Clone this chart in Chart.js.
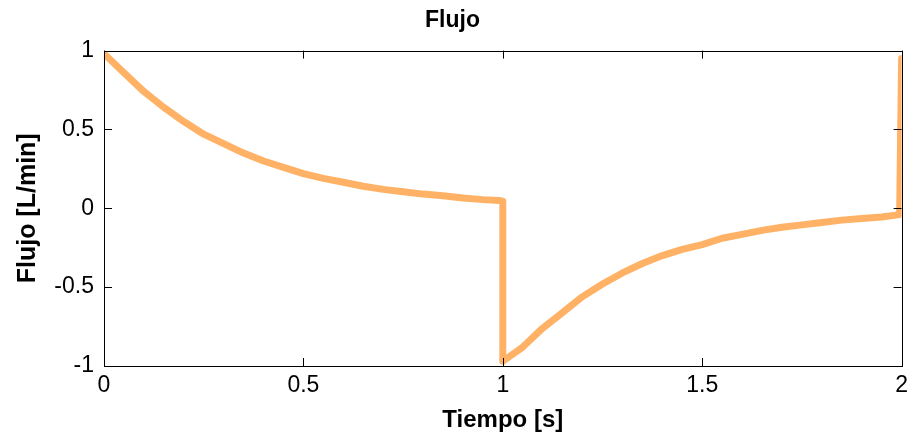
<!DOCTYPE html>
<html>
<head>
<meta charset="utf-8">
<script src="https://cdn.jsdelivr.net/npm/chart.js@4/dist/chart.umd.min.js"></script>
<style>
  html, body { margin: 0; padding: 0; background: #fff; }
  #wrap { width: 914px; height: 441px; }
</style>
</head>
<body>
<div id="wrap"><canvas id="chart"></canvas></div>
<script>
// tiempo [s] and flujo [L/min]
const tiempo = [
  0, 0.05, 0.1, 0.15, 0.2, 0.25, 0.3, 0.35, 0.4, 0.45, 0.5,
  0.55, 0.6, 0.65, 0.7, 0.75, 0.8, 0.85, 0.9, 0.95, 0.99, 1.0,
  1.0, 1.05, 1.1, 1.15, 1.2, 1.25, 1.3, 1.35, 1.4, 1.45, 1.5,
  1.55, 1.6, 1.65, 1.7, 1.75, 1.8, 1.85, 1.9, 1.95, 1.995, 2.0
];
const flujo = [
  0.98, 0.86, 0.74, 0.64, 0.55, 0.47, 0.41, 0.35, 0.30, 0.26, 0.22,
  0.19, 0.165, 0.14, 0.12, 0.105, 0.09, 0.08, 0.065, 0.055, 0.05, 0.045,
  -0.97, -0.88, -0.76, -0.66, -0.56, -0.48, -0.41, -0.35, -0.30, -0.26, -0.23,
  -0.19, -0.165, -0.14, -0.12, -0.105, -0.09, -0.075, -0.065, -0.055, -0.04, 0.95
];
const xTicks = [0, 0.5, 1, 1.5, 2];
const yTicks = [-1, -0.5, 0, 0.5, 1];

const points = tiempo.map((t, i) => ({ x: t, y: flujo[i] }));
const fontFam = 'Liberation Sans, Arial, sans-serif';

// MATLAB style box with inward ticks
const boxTicks = {
  id: 'boxTicks',
  afterDraw(chart) {
    const { ctx, chartArea: a, scales } = chart;
    const len = 8;
    ctx.save();
    ctx.strokeStyle = '#000';
    ctx.lineWidth = 1;
    ctx.beginPath();
    xTicks.forEach(v => {
      const px = Math.round(scales.x.getPixelForValue(v)) + 0.5;
      ctx.moveTo(px, a.bottom); ctx.lineTo(px, a.bottom - len);
      ctx.moveTo(px, a.top); ctx.lineTo(px, a.top + len);
    });
    yTicks.forEach(v => {
      const py = Math.round(scales.y.getPixelForValue(v)) + 0.5;
      ctx.moveTo(a.left, py); ctx.lineTo(a.left + len, py);
      ctx.moveTo(a.right, py); ctx.lineTo(a.right - len, py);
    });
    ctx.stroke();
    ctx.strokeRect(Math.round(a.left) + 0.5, Math.round(a.top) + 0.5,
      Math.round(a.right - a.left), Math.round(a.bottom - a.top));
    ctx.restore();
  }
};

new Chart(document.getElementById('chart'), {
  type: 'scatter',
  data: {
    datasets: [{
      data: points,
      showLine: true,
      borderColor: '#FFB266',
      borderWidth: 7,
      pointRadius: 0,
      tension: 0,
      borderJoinStyle: 'round',
      borderCapStyle: 'round'
    }]
  },
  options: {
    responsive: true,
    maintainAspectRatio: false,
    animation: false,
    layout: { padding: { left: 0, right: 9, top: 0, bottom: 0 } },
    plugins: {
      legend: { display: false },
      tooltip: { enabled: false },
      title: {
        display: true,
        text: 'Flujo',
        color: '#000',
        font: { family: fontFam, size: 23, weight: 'bold' },
        padding: { top: 7, bottom: 16 }
      }
    },
    scales: {
      x: {
        type: 'linear',
        min: 0, max: 2,
        afterFit: s => { s.height = 75; },
        afterBuildTicks: s => { s.ticks = xTicks.map(v => ({ value: v })); },
        grid: { display: false, drawTicks: false },
        border: { display: false },
        ticks: {
          color: '#000', padding: 6, maxRotation: 0,
          callback: v => String(v),
          font: { family: fontFam, size: 23 }
        },
        title: {
          display: true, text: 'Tiempo [s]', color: '#000',
          font: { family: fontFam, size: 24, weight: 'bold' },
          padding: { top: 0, bottom: 6 }
        }
      },
      y: {
        min: -1, max: 1,
        afterFit: s => { s.width = 104; },
        afterBuildTicks: s => { s.ticks = yTicks.map(v => ({ value: v })); },
        grid: { display: false, drawTicks: false },
        border: { display: false },
        ticks: {
          color: '#000', padding: 10,
          callback: v => String(v),
          font: { family: fontFam, size: 23 }
        },
        title: {
          display: true, text: 'Flujo [L/min]', color: '#000',
          font: { family: fontFam, size: 25, weight: 'bold' },
          padding: { top: 13, bottom: 0 }
        }
      }
    }
  },
  plugins: [boxTicks]
});
</script>
</body>
</html>
